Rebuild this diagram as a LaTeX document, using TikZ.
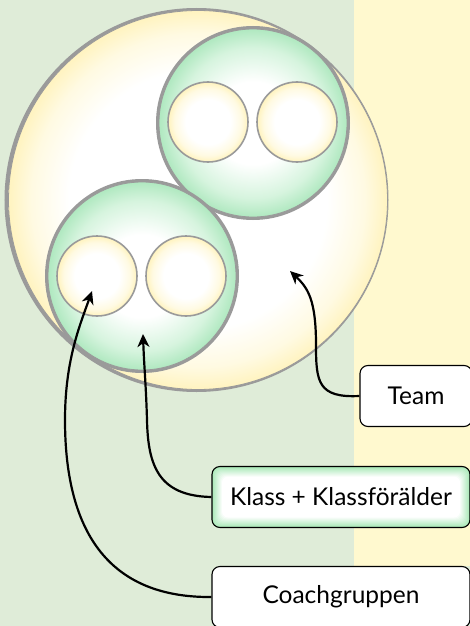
\documentclass[tikz,border=0pt]{standalone}
\usepackage{fontspec}
\setmainfont{Lato}
\usetikzlibrary{arrows.meta}
\definecolor{bggreen}{HTML}{DFECD8}
\definecolor{bgyellow}{HTML}{FFF9CF}
\definecolor{ballyellow}{HTML}{FFF1B4}
\definecolor{paleyellow}{HTML}{FFFAE2}
\definecolor{ballgreen}{HTML}{A8E6BA}
\definecolor{palegreen}{HTML}{D6F4DE}
\definecolor{glowgreen}{HTML}{A8E8B6}
\definecolor{shadowgray}{HTML}{9A9A9A}
\pgfdeclareradialshading{yellowball}{\pgfpoint{0bp}{0bp}}{color(0bp)=(white); color(17bp)=(white); color(22bp)=(paleyellow); color(26bp)=(ballyellow); color(50bp)=(ballyellow)}
\pgfdeclareradialshading{smallball}{\pgfpoint{0bp}{0bp}}{color(0bp)=(white); color(14bp)=(white); color(21bp)=(paleyellow); color(26bp)=(ballyellow); color(50bp)=(ballyellow)}
\pgfdeclareradialshading{greenball}{\pgfpoint{0bp}{0bp}}{color(0bp)=(white); color(11bp)=(white); color(20bp)=(palegreen); color(26bp)=(ballgreen); color(50bp)=(ballgreen)}
\begin{document}
\begin{tikzpicture}[x=1pt,y=-1pt]
\tikzstyle{ring}=[circle,inner sep=0pt,draw=shadowgray,line width=0.8pt]
\tikzstyle{team circle}=[ring,minimum size=379pt,shading=yellowball,
  preaction={draw=shadowgray,line width=5pt,transform canvas={xshift=-1.5pt}}]
\tikzstyle{group circle}=[ring,minimum size=188pt,shading=greenball,
  preaction={draw=shadowgray,line width=6pt}]
\tikzstyle{pupil}=[ring,minimum size=80pt,line width=1.6pt,shading=smallball]
\tikzstyle{box}=[draw,line width=1.1pt,rounded corners=8pt,fill=white,
  font=\fontsize{24.5}{28}\selectfont,minimum height=61pt]
\tikzstyle{glow}=[box,fill=glowgreen,path picture={
  \foreach \k [evaluate=\k as \p using {int(100-10*\k)}] in {1,...,10}
    \fill[glowgreen!\p!white,rounded corners=6pt]
      ([shift={(\k pt,-\k pt)}]path picture bounding box.north west)
      rectangle ([shift={(-\k pt,\k pt)}]path picture bounding box.south east);}]
\tikzstyle{pointer}=[line width=2.2pt,-{Stealth[length=13pt,width=12pt,inset=4pt]}]
\useasboundingbox (0,0) rectangle (470,626);
\fill[bggreen] (0,0) rectangle (470,626);
\fill[bgyellow] (354,0) rectangle (470,566);
\node[team circle] (team) at (198,200) {};
\node[group circle] (upper) at (253,123) {};
\node[group circle] (lower) at (142,276) {};
\node[pupil] (u1) at (208,122) {};
\node[pupil] (u2) at (297,122) {};
\node[pupil] (l1) at (97,276) {};
\node[pupil] (l2) at (186,276) {};
\node[box,minimum width=112pt] (teambox) at (416,396) {Team};
\node[glow,minimum width=258pt] (klassbox) at (341,497) {Klass + Klassförälder};
\node[box,minimum width=258pt] (coachbox) at (341,597) {Coachgruppen};
\coordinate (teamtip) at (290,271);
\coordinate (klasstip) at (143,334);
\coordinate (coachtip) at (92,291);
\draw[pointer] (teambox.west) .. controls (318,398) and (316,382) .. (316,345)
  .. controls (316,300) and (308,288) .. (teamtip);
\draw[pointer] (klassbox.west) .. controls (158,496) and (148,465) .. (147,420)
  .. controls (146,385) and (144,365) .. (klasstip);
\draw[pointer] (coachbox.west) .. controls (100,598) and (65,520) .. (65,420)
  .. controls (65,360) and (80,325) .. (coachtip);
\end{tikzpicture}
\end{document}
